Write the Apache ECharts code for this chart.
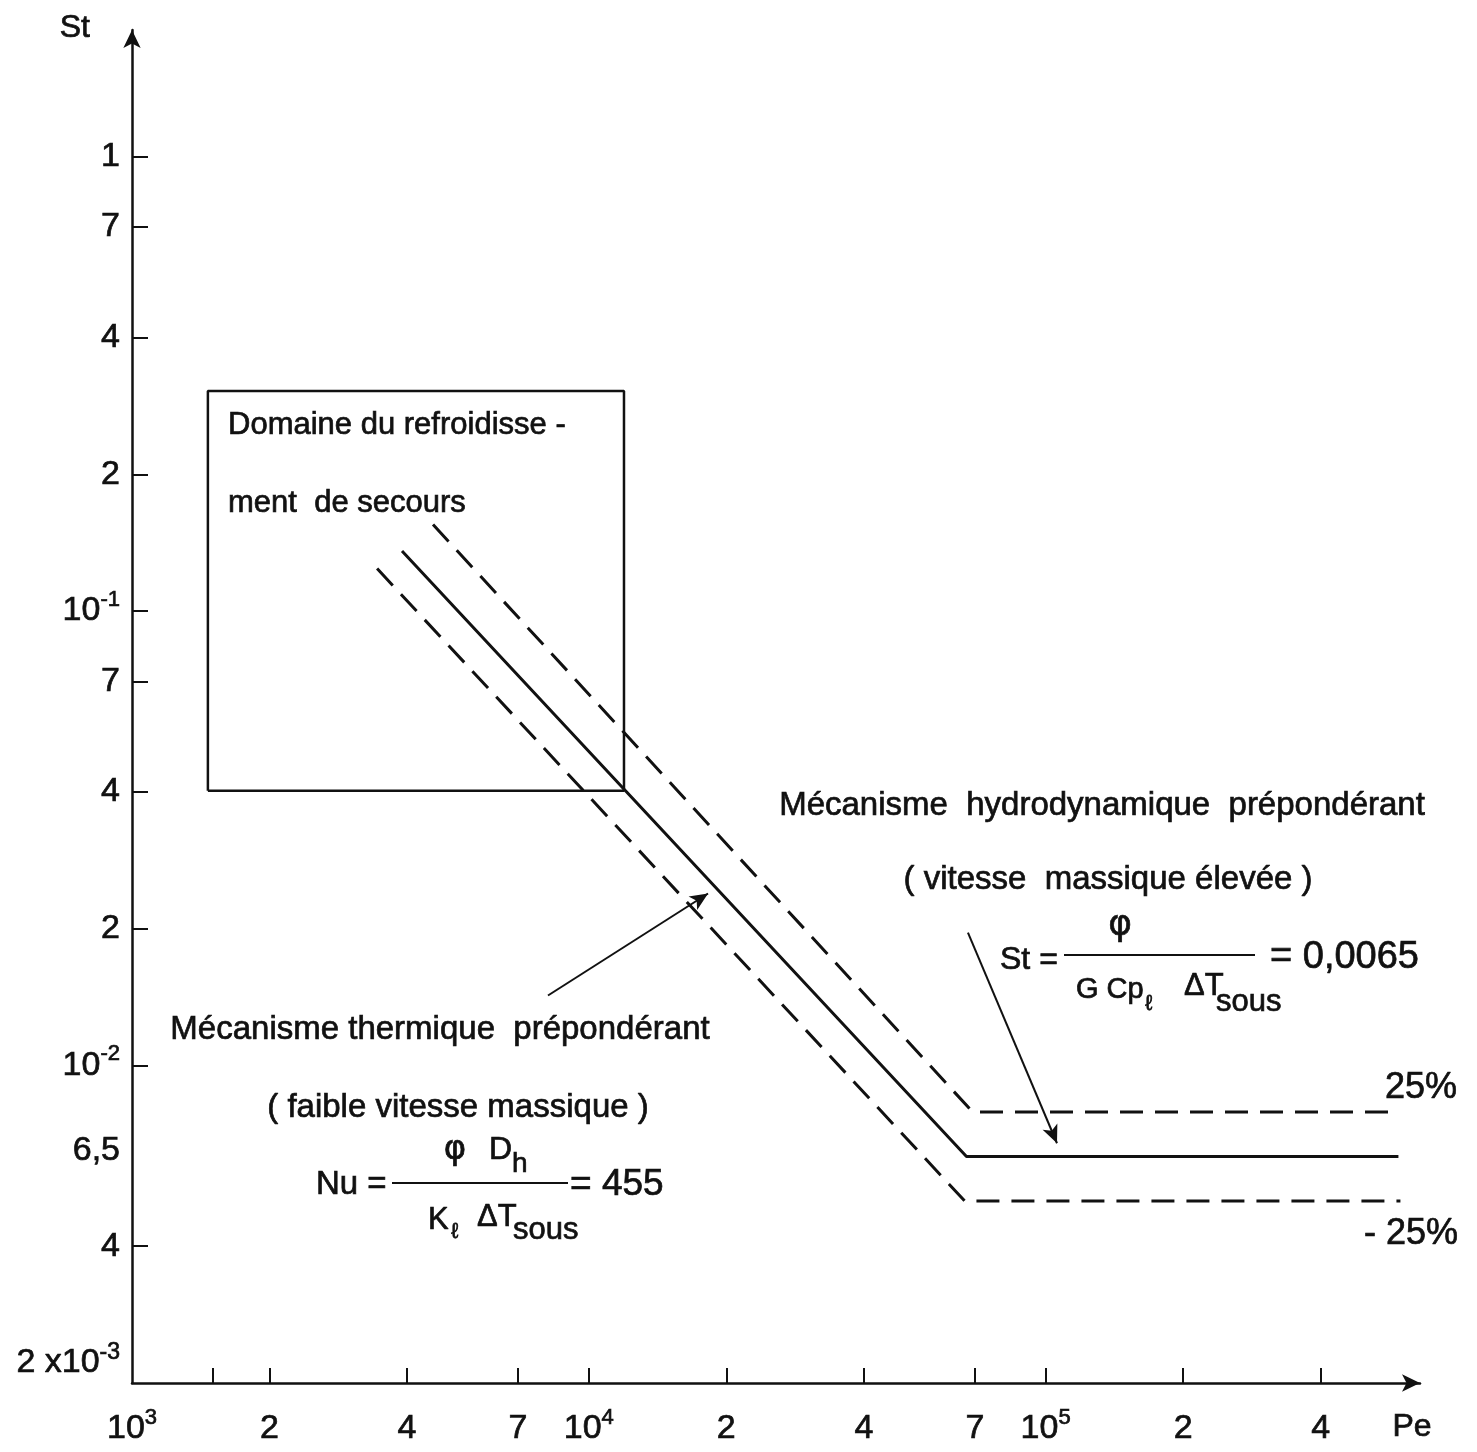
<!DOCTYPE html>
<html><head><meta charset="utf-8">
<script src="https://cdn.jsdelivr.net/npm/echarts@6/dist/echarts.min.js"></script>
<style>html,body{margin:0;padding:0;background:#fff}#c{width:1477px;height:1452px}</style>
</head><body><div id="c"></div>
<script>
// ---- data (Pe on x, St on y, both log) ----
const solidPe = [3900, 67100, 592000];
const solidSt = [0.1355, 0.0063, 0.0063];
const upperPe = [4560, 69200, 596000];   // +25 %
const upperSt = [0.155, 0.0079, 0.0079];
const lowerPe = [3440, 66500, 598000];   // -25 %
const lowerSt = [0.124, 0.00503, 0.00503];
const boxPe = [1466, 1466, 11940, 11940, 1466];
const boxSt = [0.0402, 0.305, 0.305, 0.0402, 0.0402];
const arrowThermPe = [8140, 18240];
const arrowThermSt = [0.01425, 0.0239];
const arrowHydroPe = [67600, 105900];
const arrowHydroSt = [0.0196, 0.00674];

const xTickValues = [1500, 2000, 4000, 7000, 10000, 20000, 40000, 70000, 100000, 200000, 400000];
const xLabelValues = [1000, 2000, 4000, 7000, 10000, 20000, 40000, 70000, 100000, 200000, 400000];
const xLabelTexts = ['10^3', '2', '4', '7', '10^4', '2', '4', '7', '10^5', '2', '4'];
const yTickValues = [1, 0.7, 0.4, 0.2, 0.1, 0.07, 0.04, 0.02, 0.01, 0.004];
const yLabelValues = [1, 0.7, 0.4, 0.2, 0.1, 0.07, 0.04, 0.02, 0.01, 0.0065, 0.004, 0.002];
const yLabelTexts = ['1', '7', '4', '2', '10^-1', '7', '4', '2', '10^-2', '6,5', '4', '2 x10^-3'];

const FONT = '"Liberation Sans", Arial, sans-serif';
const PHI_FONT = '"DejaVu Sans", sans-serif';
const INK = '#111';
const BW = 0.7; // slight stroke to mimic the heavier lettering

function zip(a, b) { return a.map((v, i) => [v, b[i]]); }
function findText(val, vals, texts) {
  for (let i = 0; i < vals.length; i++) {
    if (Math.abs(Math.log10(val) - Math.log10(vals[i])) < 1e-6) return texts[i];
  }
  return '';
}
function toRich(t, low) {
  const i = t.indexOf('^');
  const b = low ? 'lb' : 'b', s = low ? 'ls' : 's';
  let out = i < 0 ? '{' + b + '|' + t + '}'
    : '{' + b + '|' + t.slice(0, i) + '}{' + s + '|' + t.slice(i + 1) + '}';
  if (low) out += '\n{gap| }';
  return out;
}
const base = { fontFamily: FONT, color: INK, textBorderColor: INK, textBorderWidth: BW };
const richStyles = {
  b: Object.assign({ fontSize: 34, lineHeight: 44 }, base),
  s: Object.assign({ fontSize: 22, lineHeight: 22, verticalAlign: 'top' }, base),
  lb: Object.assign({ fontSize: 34, lineHeight: 44 }, base),
  ls: Object.assign({ fontSize: 23, lineHeight: 22, verticalAlign: 'top' }, base),
  gap: { fontSize: 8, lineHeight: 40 }
};

// ---- annotation helpers (graphic) ----
function T(text, x, y, size, align, family) {
  return {
    type: 'text', silent: true,
    style: { text: text, x: x, y: y, fill: INK, font: size + 'px ' + (family || FONT),
      stroke: INK, lineWidth: BW,
      align: align || 'left', verticalAlign: 'middle',
      textAlign: align || 'left', textVerticalAlign: 'middle' }
  };
}
function L(x1, y1, x2, y2, w) {
  return { type: 'line', silent: true, shape: { x1: x1, y1: y1, x2: x2, y2: y2 },
    style: { stroke: INK, lineWidth: w || 2 } };
}

const graphics = [
  T('Domaine du refroidisse -', 228, 425, 31),
  T('ment  de secours', 228, 503, 31),
  T('Mécanisme  hydrodynamique  prépondérant', 1102, 806, 33, 'center'),
  T('( vitesse  massique élevée )', 1108, 880, 33, 'center'),
  // St formula
  T('St =', 1000, 960, 32),
  L(1064, 955, 1255, 955, 2.2),
  T('φ', 1120, 926, 36, 'center', PHI_FONT),
  T('G Cp', 1076, 990, 29),
  T('ℓ', 1145, 1004, 22),
  T('ΔT', 1184, 986, 31),
  T('sous', 1216, 1002, 31),
  T('= 0,0065', 1270, 958, 38),
  // thermal
  T('Mécanisme thermique  prépondérant', 440, 1030, 33, 'center'),
  T('( faible vitesse massique )', 458, 1108, 33, 'center'),
  T('Nu =', 316, 1185, 33),
  L(392, 1183, 568, 1183, 2.2),
  T('φ', 455, 1150, 34, 'center', PHI_FONT),
  T('D', 489, 1150, 32),
  T('h', 512, 1164, 28),
  T('K', 428, 1220, 31),
  T('ℓ', 451, 1232, 22),
  T('ΔT', 477, 1217, 31),
  T('sous', 513, 1230, 31),
  T('= 455', 570, 1185, 37),
  T('25%', 1385, 1088, 36),
  T('- 25%', 1364, 1234, 36)
];

const chart = echarts.init(document.getElementById('c'), null, { renderer: 'canvas' });
chart.setOption({
  animation: false,
  backgroundColor: '#fff',
  grid: { left: 132, right: 57, top: 30, bottom: 69, containLabel: false, outerBoundsMode: 'none' },
  xAxis: {
    type: 'log', logBase: 10, min: 1000, max: 660000,
    name: 'Pe', nameLocation: 'end', nameGap: -8,
    nameTextStyle: { fontSize: 32, fontFamily: FONT, color: INK, textBorderColor: INK, textBorderWidth: BW,
      align: 'center', verticalAlign: 'top', padding: [28, 0, 0, 0] },
    axisLine: { show: true, symbol: ['none', 'arrow'], symbolSize: [13, 18], lineStyle: { color: INK, width: 2.5 } },
    axisTick: { show: true, inside: true, length: 15, customValues: xTickValues, lineStyle: { color: INK, width: 2 } },
    axisLabel: { show: true, margin: 24, customValues: xLabelValues, rich: richStyles,
      formatter: v => toRich(findText(v, xLabelValues, xLabelTexts), false) },
    splitLine: { show: false }, minorTick: { show: false }, minorSplitLine: { show: false }
  },
  yAxis: {
    type: 'log', logBase: 10, min: 0.002, max: 1.9,
    name: 'St', nameLocation: 'end', nameGap: 2,
    nameTextStyle: { fontSize: 32, fontFamily: FONT, color: INK, textBorderColor: INK, textBorderWidth: BW,
      align: 'right', verticalAlign: 'middle', padding: [0, 42, 0, 0] },
    axisLine: { show: true, symbol: ['none', 'arrow'], symbolSize: [13, 18], lineStyle: { color: INK, width: 2.5 } },
    axisTick: { show: true, inside: true, length: 16, customValues: yTickValues, lineStyle: { color: INK, width: 2 } },
    axisLabel: { show: true, margin: 12, customValues: yLabelValues, rich: richStyles,
      formatter: v => toRich(findText(v, yLabelValues, yLabelTexts), Math.abs(v - 0.002) < 1e-9) },
    splitLine: { show: false }, minorTick: { show: false }, minorSplitLine: { show: false }
  },
  series: [
    { name: 'St', type: 'line', data: zip(solidPe, solidSt), symbol: 'none',
      lineStyle: { color: INK, width: 3 } },
    { name: '+25%', type: 'line', data: zip(upperPe, upperSt), symbol: 'none',
      lineStyle: { color: INK, width: 3, type: [23, 12] } },
    { name: '-25%', type: 'line', data: zip(lowerPe, lowerSt), symbol: 'none',
      lineStyle: { color: INK, width: 3, type: [23, 12] } },
    { name: 'Domaine', type: 'line', data: zip(boxPe, boxSt), symbol: 'none',
      lineStyle: { color: INK, width: 2.5 },
      markLine: {
        silent: true, animation: false, symbol: ['none', 'arrow'], symbolSize: [12, 18],
        label: { show: false },
        lineStyle: { color: INK, width: 2, type: 'solid' },
        data: [
          [{ coord: [arrowThermPe[0], arrowThermSt[0]] }, { coord: [arrowThermPe[1], arrowThermSt[1]] }],
          [{ coord: [arrowHydroPe[0], arrowHydroSt[0]] }, { coord: [arrowHydroPe[1], arrowHydroSt[1]] }]
        ]
      } }
  ],
  graphic: graphics
});
</script>
</body></html>
